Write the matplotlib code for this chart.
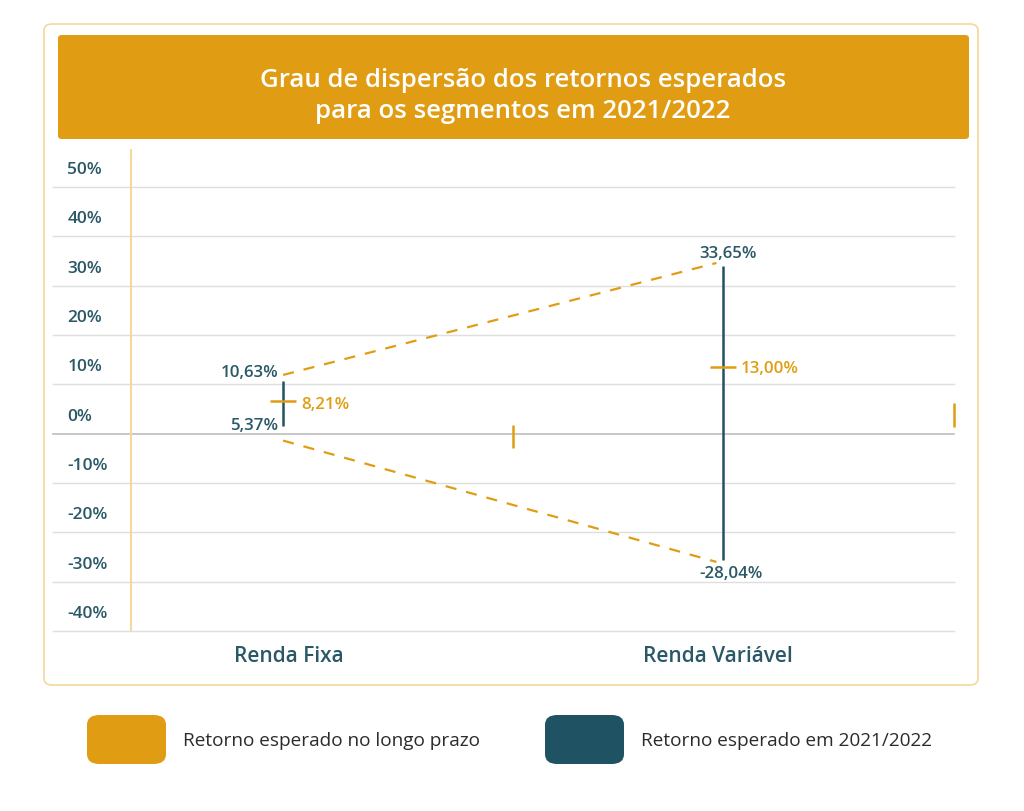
import matplotlib
matplotlib.use('Agg')
import matplotlib.pyplot as plt
from matplotlib.patches import FancyBboxPatch
import matplotlib.transforms as mtransforms

# ---------------- data ----------------
categories = ['Renda Fixa', 'Renda Variável']
cat_pos = [0, 1]
range_low = [1.6, -25.7]          # drawn bottom of 2021/2022 range
range_high = [10.65, 34.0]        # drawn top of 2021/2022 range
long_term = [6.7, 13.6]           # drawn long-term expected return
high_labels = ['10,63%', '33,65%']
low_labels = ['5,37%', '-28,04%']
long_labels = ['8,21%', '13,00%']
y_ticks = [50, 40, 30, 20, 10, 0, -10, -20, -30, -40]
y_tick_labels = ['50%', '40%', '30%', '20%', '10%', '0%', '-10%', '-20%', '-30%', '-40%']
trend_x = [0, 0.985]
upper_trend = [11.9, 34.6]
lower_trend = [-1.4, -26.0]
stray_x = [0.522, 1.525]
stray_low = [-3.0, 1.3]
stray_high = [1.7, 6.3]
title = 'Grau de dispersão dos retornos esperados\npara os segmentos em 2021/2022'
legend_labels = ['Retorno esperado no longo prazo', 'Retorno esperado em 2021/2022']

# ---------------- style ----------------
ORANGE = '#E09D14'
TEAL = '#1F5262'
TEXT_TEAL = '#2A5867'
GRID = '#DEDEDE'
ZERO = '#BDBDBD'
BORDER = '#F6D79C'
FONT = ['Open Sans', 'DejaVu Sans']
plt.rcParams['font.family'] = FONT

W, H = 1024, 812
fig = plt.figure(figsize=(W / 100, H / 100), dpi=100)
fig.patch.set_facecolor('white')


def fx(px):
    return px / W


def fy(py):
    return 1 - py / H


# outer border
fig.patches.append(FancyBboxPatch((fx(44), fy(686)), fx(978 - 44), (686 - 25) / H,
                                  boxstyle='round,pad=0,rounding_size=0.008',
                                  transform=fig.transFigure, facecolor='none',
                                  edgecolor=BORDER, linewidth=1.2, zorder=0))
# title bar
fig.patches.append(FancyBboxPatch((fx(58), fy(140)), fx(969 - 58), (140 - 36) / H,
                                  boxstyle='round,pad=0,rounding_size=0.004',
                                  transform=fig.transFigure, facecolor=ORANGE,
                                  edgecolor='none', zorder=1))
fig.text(fx(523), fy(96), title, color='white', ha='center', va='center',
         fontsize=18.5, linespacing=1.3, fontweight='semibold')

# main axes
ax = fig.add_axes([fx(53), fy(632), fx(954 - 53), (632 - 150) / H])
ax.set_zorder(2)
ax.patch.set_visible(False)
ax.set_xlim(-0.523, 1.525)
ax.set_ylim(-40, 57.7)
for s in ax.spines.values():
    s.set_visible(False)
ax.set_xticks([])
ax.set_yticks([])

for v in y_ticks:
    ax.axhline(v, color=ZERO if v == 0 else GRID, lw=1.2 if v == 0 else 1.0,
               zorder=1, clip_on=False)

# y axis line (orange)
ax.axvline(-0.346, color=BORDER, lw=1.5, zorder=2)

# y labels
blend = mtransforms.blended_transform_factory(ax.transAxes, ax.transData)
for v, lab in zip(y_ticks, y_tick_labels):
    tr = blend + mtransforms.ScaledTranslation(0, 18 / 100, fig.dpi_scale_trans)
    ax.text(0.016, v, lab, transform=tr, ha='left', va='center', fontsize=12.5,
            color=TEXT_TEAL, fontweight='semibold')

# category labels
blend_x = mtransforms.blended_transform_factory(ax.transData, ax.transAxes)
cat_dx = [6, -5]
for x, c, dx in zip(cat_pos, categories, cat_dx):
    tr = blend_x + mtransforms.ScaledTranslation(dx / 100, -24 / 100, fig.dpi_scale_trans)
    ax.text(x, 0, c, transform=tr, ha='center', va='center', fontsize=15,
            color=TEXT_TEAL, fontweight='semibold')

# trend dashed lines
ax.plot(trend_x, upper_trend, color=ORANGE, lw=1.6, ls=(0, (5, 4.5)), zorder=3)
ax.plot(trend_x, lower_trend, color=ORANGE, lw=1.6, ls=(0, (5, 4.5)), zorder=3)

# 2021/2022 ranges
ax.vlines(cat_pos, range_low, range_high, color=TEAL, lw=1.8, zorder=4)
# long-term ticks
ax.hlines(long_term, [x - 0.03 for x in cat_pos], [x + 0.03 for x in cat_pos],
          color=ORANGE, lw=1.8, zorder=5)
# stray ticks
ax.vlines(stray_x, stray_low, stray_high, color=ORANGE, lw=1.8, zorder=4, clip_on=False)

# value labels (offsets in pixels)
high_off = [(-5, 9, 'right'), (5, 13, 'center')]
low_off = [(-5, 1, 'right'), (8, -13, 'center')]
long_off = [(18, -3, 'left'), (18, -1, 'left')]
for i, x in enumerate(cat_pos):
    dx, dy, ha = high_off[i]
    ax.annotate(high_labels[i], (x, range_high[i]), xytext=(dx * 0.72, dy * 0.72),
                textcoords='offset points', ha=ha, va='center', fontsize=12.2,
                color=TEXT_TEAL, fontweight='semibold')
    dx, dy, ha = low_off[i]
    ax.annotate(low_labels[i], (x, range_low[i]), xytext=(dx * 0.72, dy * 0.72),
                textcoords='offset points', ha=ha, va='center', fontsize=12.2,
                color=TEXT_TEAL, fontweight='semibold')
    dx, dy, ha = long_off[i]
    ax.annotate(long_labels[i], (x, long_term[i]), xytext=(dx * 0.72, dy * 0.72),
                textcoords='offset points', ha=ha, va='center', fontsize=12.2,
                color=ORANGE, fontweight='semibold')

# legend
for (x0, col), lab in zip([(87, ORANGE), (545, TEAL)], legend_labels):
    fig.patches.append(FancyBboxPatch((fx(x0), fy(765)), fx(79), 49 / H,
                                      boxstyle='round,pad=0,rounding_size=0.012',
                                      transform=fig.transFigure, facecolor=col,
                                      edgecolor='none'))
    fig.text(fx(x0 + 96), fy(741), lab, ha='left', va='center', fontsize=13.7,
             color='#2B2B2B')

fig.savefig('out.png', dpi=100, facecolor='white')
